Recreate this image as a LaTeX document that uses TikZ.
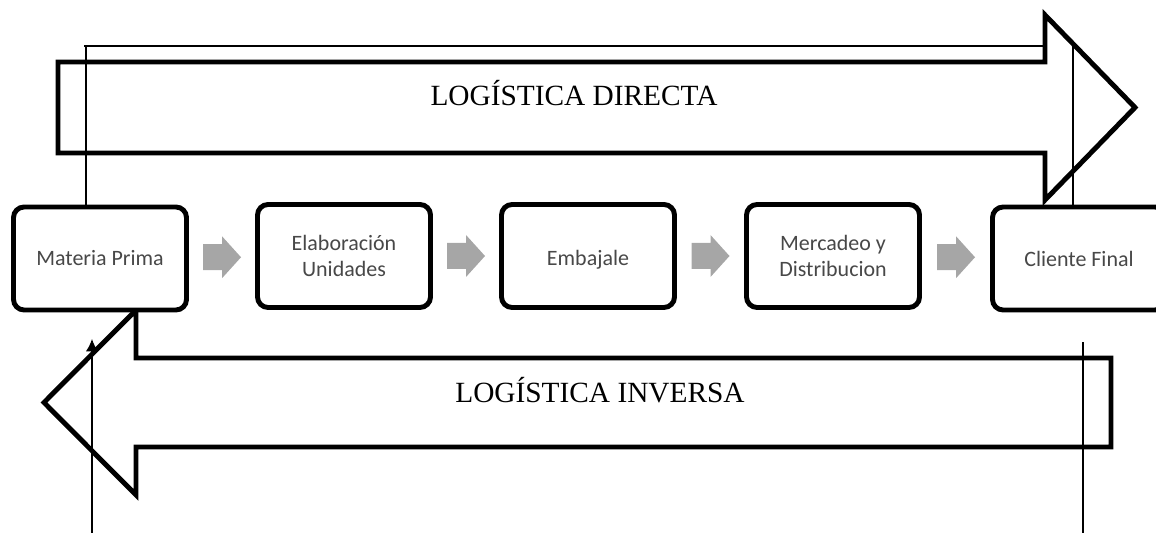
\documentclass[tikz,border=0pt]{standalone}
\usepackage{fontspec}
\setmainfont{Liberation Serif}
\newfontfamily\boxfont{Carlito}
\usetikzlibrary{calc,arrows.meta}
\definecolor{boxtext}{HTML}{484848}
\definecolor{flowgray}{HTML}{A6A6A6}
\begin{document}
\begin{tikzpicture}[x=0.02cm,y=-0.02cm,
  bigarrow/.style={line width=2.8pt,fill=white,miter limit=10,line join=miter},
  stagebox/.style={draw,line width=2.8pt,rounded corners=6pt,fill=white,
    minimum width=173*0.02cm,minimum height=103*0.02cm,align=center,
    font=\boxfont\fontsize{12.5}{14.3}\selectfont,text=boxtext,inner sep=0pt},
  biglabel/.style={font=\fontsize{16.7}{20}\selectfont,inner sep=0pt},
  thinline/.style={line width=0.8pt},
  flowarrow/.style={fill=flowgray,draw=none}]
\useasboundingbox (0,0) rectangle (1156,533);
\clip (0,0) rectangle (1156,533);
% forward arrow
\draw[bigarrow] (58,62) -- (1045,62) -- (1045,15) -- (1135,107.5) -- (1045,200) -- (1045,153) -- (58,153) -- cycle;
\node[biglabel] (dir) at (574,93) {LOGÍSTICA DIRECTA};
% reverse arrow
\draw[bigarrow] (1111,358) -- (136,358) -- (136,310) -- (44,402.5) -- (136,495) -- (136,447) -- (1111,447) -- cycle;
\node[biglabel] (inv) at (600,390) {LOGÍSTICA INVERSA};
% boxes
\node[stagebox] (b1) at (100,258.5) {Materia Prima};
\node[stagebox] (b2) at (344,256) {Elaboración\\Unidades};
\node[stagebox,text depth=0pt] (b3) at (588,256) {\raisebox{-1.3pt}[\height][0pt]{Embajale}};
\node[stagebox] (b4) at (833,256) {Mercadeo y\\Distribucion};
\node[stagebox] (b5) at (1079,258.5) {Cliente Final};
% gray flow arrows
\foreach \a/\b in {b1/b2,b2/b3,b3/b4,b4/b5}{
  \coordinate (m) at ($(\a.east)!0.5!(\b.west)$);
  \fill[flowarrow] ([shift={(-19,-13)}]m) -- ([shift={(0,-13)}]m) -- ([shift={(0,-21)}]m)
    -- ([shift={(19,0)}]m) -- ([shift={(0,21)}]m) -- ([shift={(0,13)}]m) -- ([shift={(-19,13)}]m) -- cycle;
}
% thin lines, top
\coordinate (tl) at (84,46);
\coordinate (tr) at (1044,46);
\draw[thinline] (tl) -- (tr);
\draw[thinline] (86,46) -- (b1.north -| 86,0);
\coordinate (rt) at (1073,46);
\draw[thinline] (rt) -- (b5.north -| rt);
% thin lines, bottom
\coordinate (lb) at (92,533);
\coordinate (lt) at (92,339);
\draw[thinline,-{Latex[length=7pt,width=7pt]}] (lb) -- (lt);
\coordinate (rb) at (1083,533);
\coordinate (rt2) at (1083,342);
\draw[thinline] (rb) -- (rt2);
\end{tikzpicture}
\end{document}
